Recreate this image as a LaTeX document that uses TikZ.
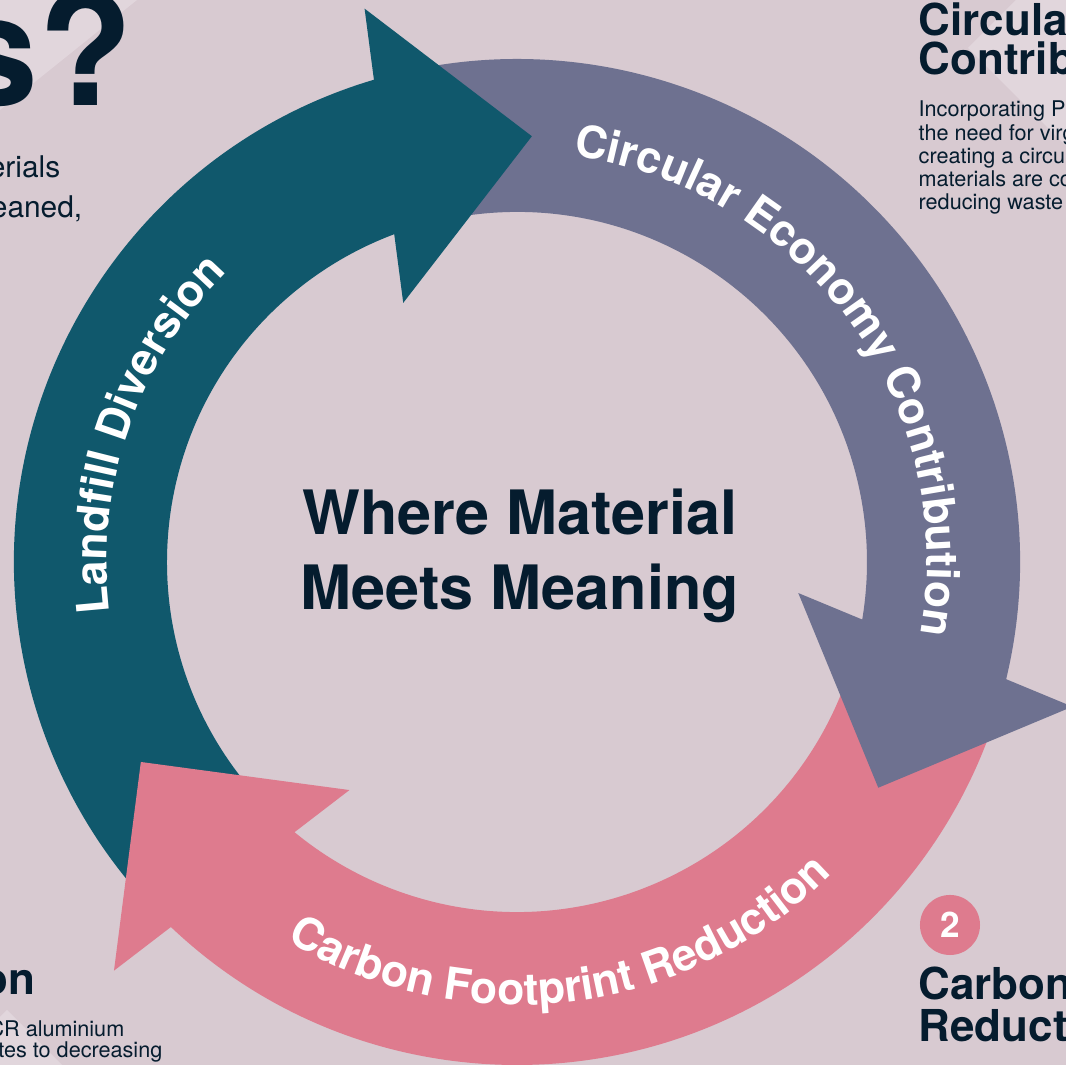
\documentclass[tikz,border=0pt]{standalone}
\usepackage{fontspec}
\setmainfont{TeX Gyre Heros}
\usepackage{tikz}
\usetikzlibrary{decorations.text}
\usepackage{xcolor}

\definecolor{bgpink}{RGB}{216,202,209}
\definecolor{bglight}{RGB}{225,214,220}
\definecolor{tealarrow}{RGB}{16,88,108}
\definecolor{purplearrow}{RGB}{110,113,144}
\definecolor{pinkarrow}{RGB}{222,123,142}
\definecolor{navytext}{RGB}{5,28,46}

\tikzset{
	heading/.style={inner sep=0pt, text=navytext, font=\bfseries\fontsize{12.5}{14}\selectfont},
	body text/.style={inner sep=0pt, text=navytext, font=\fontsize{6.15}{7}\selectfont},
	arc label/.style={decorate, decoration={text along path, text align=center,
		text={|\bfseries\fontsize{12.66}{14}\selectfont\color{white}|#1}}}
}

% one band of the ring, #1 = angle of the tip, #2 = colour
\newcommand{\ringshaft}[2]{\fill[#2] (#1+16:503) arc[start angle=#1+16, end angle=#1+132, radius=503]
	-- (#1+132:350) arc[start angle=#1+132, end angle=#1+16, radius=350] -- cycle;}
\newcommand{\ringhead}[2]{\fill[#2] (#1:426) -- (#1+17.4:574) -- (#1+25.7:283) -- cycle;}

\begin{document}
\begin{tikzpicture}[x=0.01cm, y=0.01cm]
	\useasboundingbox (-517,-503) rectangle (549,562);
	\clip (-517,-503) rectangle (549,562);
	\fill[bgpink] (-517,-503) rectangle (549,562);
	\fill[bglight] (-517,562) -- (-380,562) -- (-517,452) -- cycle;
	\fill[bglight] (451,514) -- (499,562) -- (549,562) -- (549,416) -- cycle;
	\fill[bglight] (-517,-455) -- (-510,-448) -- (-455,-503) -- (-517,-503) -- cycle;

	% ring: bands first, heads on top
	\ringshaft{88}{tealarrow}
	\ringshaft{328}{purplearrow}
	\ringshaft{208}{pinkarrow}
	\ringhead{88}{tealarrow}
	\ringhead{328}{purplearrow}
	\ringhead{208}{pinkarrow}

	\path[arc label=Landfill Diversion] (201:410) arc[start angle=201, end angle=121, radius=410];
	\path[arc label=Circular Economy Contribution] (96:410) arc[start angle=96, end angle=-24, radius=410];
	\path[arc label=Carbon Footprint Reduction] (217:443) arc[start angle=217, end angle=337, radius=443];

	\node[anchor=base, inner sep=0pt, text=navytext, font=\bfseries\fontsize{17.4}{21}\selectfont] (title1) at (3,27) {Where Material};
	\node[anchor=base, inner sep=0pt, text=navytext, font=\bfseries\fontsize{17.4}{21}\selectfont] (title2) at (3,-48) {Meets Meaning};

	% cut-off texts round the edges
	\node[anchor=base east, inner sep=0pt, text=navytext, font=\bfseries\fontsize{44}{50}\selectfont] (question) at (-383,456) {s?};
	\node[anchor=base east, inner sep=0pt, text=navytext, font=\fontsize{8.5}{10}\selectfont] (intro1) at (-456,384) {erials};
	\node[anchor=base east, inner sep=0pt, text=navytext, font=\fontsize{8.5}{10}\selectfont] (intro2) at (-434,344) {eaned,};

	\node[heading, anchor=base west] (circhead1) at (401,526) {Circular};
	\node[heading, anchor=base west] (circhead2) at (401,487) {Contrib};
	\foreach \txt [count=\i] in {Incorporating P, the need for virg, creating a circu, materials are co, reducing waste}
		\node[body text, anchor=base west] (circtext\i) at (401,445-23.2*\i+23.2) {\txt};

	\node[circle, fill=pinkarrow, minimum size=0.6cm, inner sep=0pt, text=white, font=\bfseries\fontsize{10}{12}\selectfont] (num2) at (433,-363) {2};
	\node[heading, anchor=base west] (carbhead1) at (401,-438) {Carbon};
	\node[heading, anchor=base west] (carbhead2) at (401,-480) {Reduct};

	\node[heading, anchor=base east] (landhead) at (-481,-433) {on};
	\node[body text, anchor=base east] (landtext1) at (-392,-475) {CR aluminium};
	\node[body text, anchor=base east] (landtext2) at (-354,-496) {tes to decreasing};
\end{tikzpicture}
\end{document}
